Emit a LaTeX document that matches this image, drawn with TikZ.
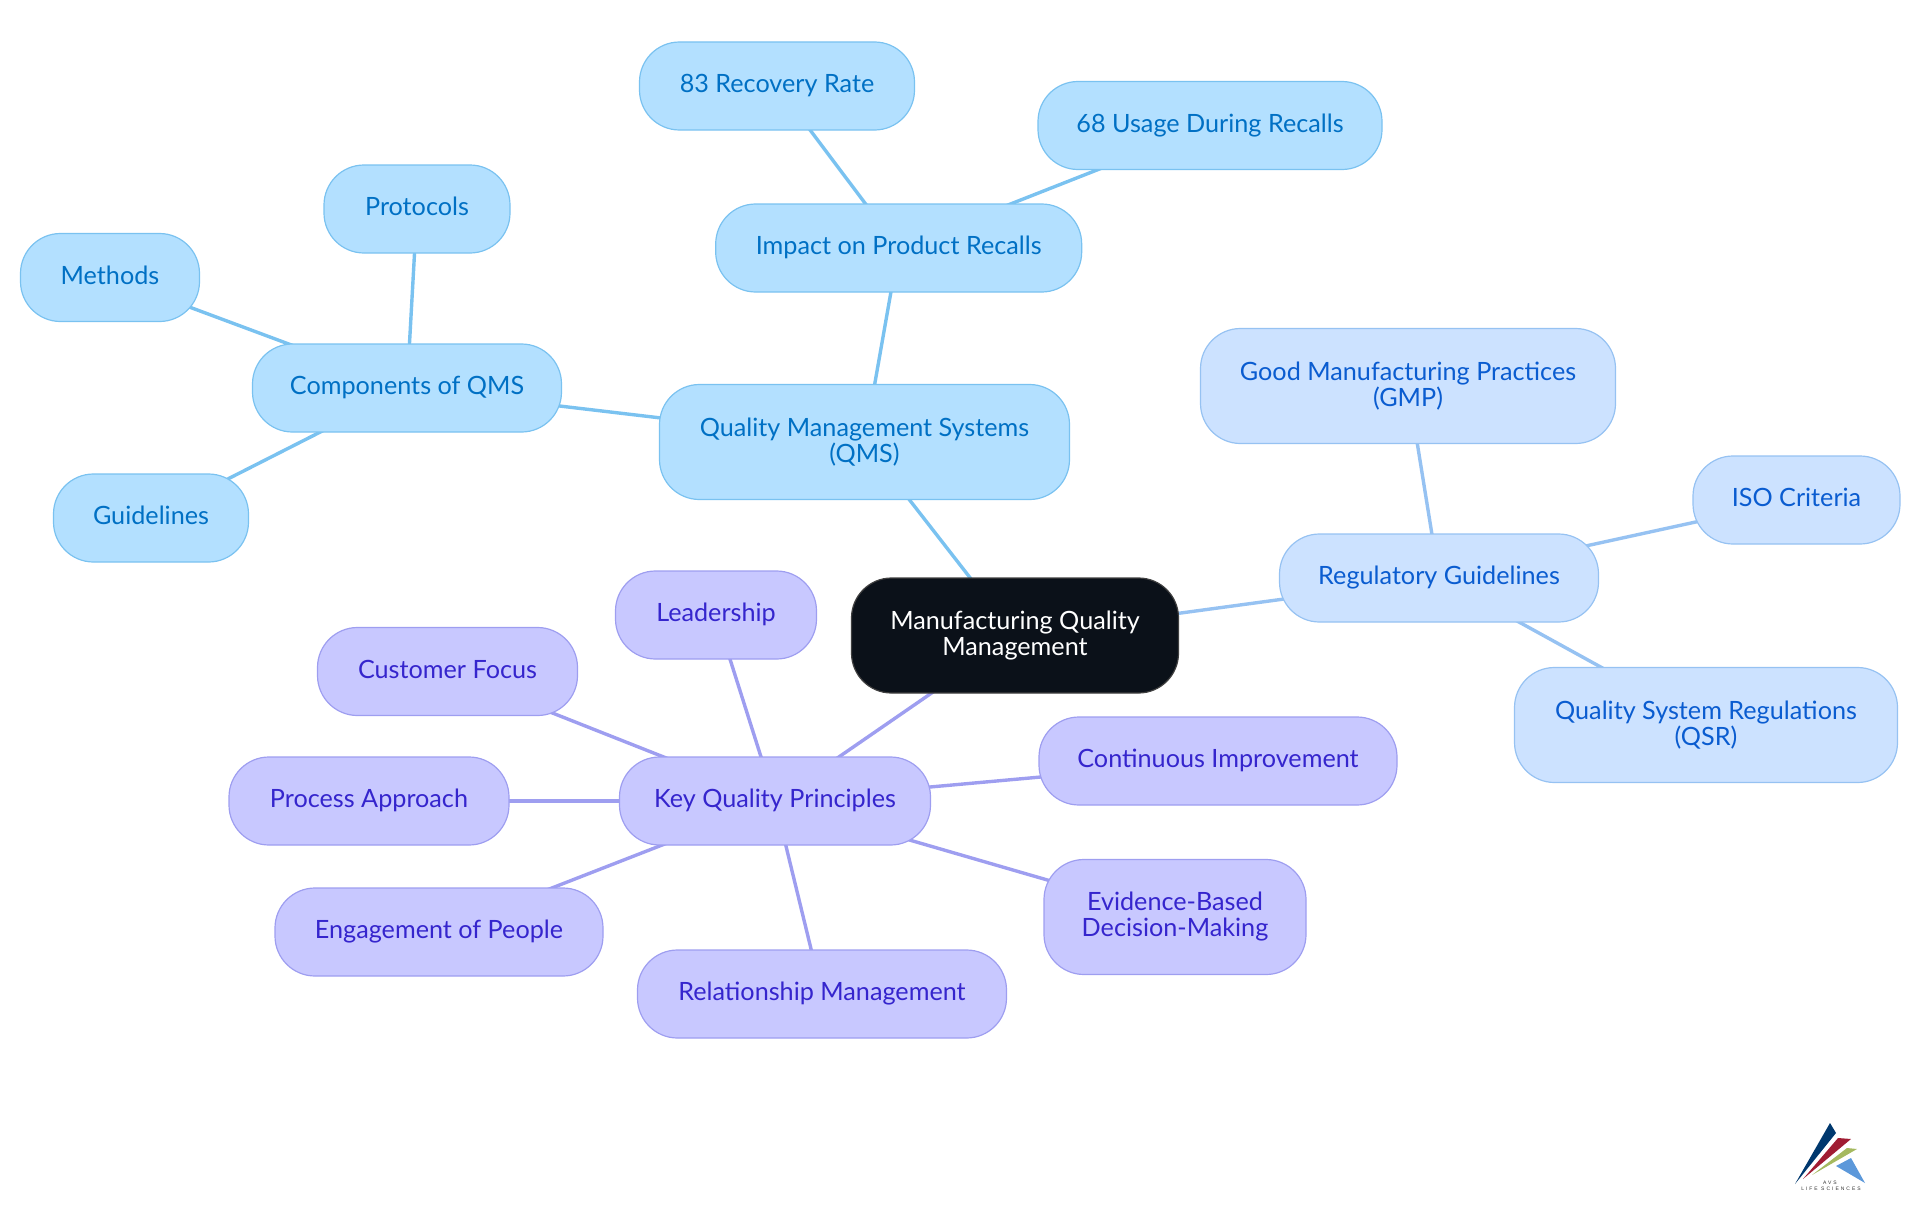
\documentclass[tikz,border=0pt]{standalone}
\usepackage{fontspec}
\setmainfont{Lato}
\newfontfamily\logofont[LetterSpace=40]{Liberation Sans}
\usetikzlibrary{positioning, backgrounds}
\definecolor{qmsfill}{HTML}{B3E0FF}
\definecolor{qmsline}{HTML}{7AC2F0}
\definecolor{qmstext}{HTML}{0070C4}
\definecolor{regfill}{HTML}{CCE2FF}
\definecolor{regline}{HTML}{96C2F2}
\definecolor{regtext}{HTML}{0A5CD0}
\definecolor{keyfill}{HTML}{C8C8FF}
\definecolor{keyline}{HTML}{9E9EF0}
\definecolor{keytext}{HTML}{3525CD}
\definecolor{rootfill}{HTML}{0B1119}
\tikzset{
	topic/.style={rectangle, rounded corners=40pt, line width=1.2pt, inner sep=0pt, minimum height=88pt, text height=18pt, text depth=5pt, align=center, font=\fontsize{25.2}{26}\selectfont},
	tall/.style={minimum height=115pt, text height=, text depth=},
	qms/.style={topic, draw=qmsline, fill=qmsfill, text=qmstext},
	reg/.style={topic, draw=regline, fill=regfill, text=regtext},
	key/.style={topic, draw=keyline, fill=keyfill, text=keytext},
}

\begin{document}
\begin{tikzpicture}[x=1pt, y=-1pt]
	\tikzstyle{qmslink}=[draw=qmsline, line width=3.4pt]
	\tikzstyle{reglink}=[draw=regline, line width=3.4pt]
	\tikzstyle{keylink}=[draw=keyline, line width=3.4pt]
	\useasboundingbox (0,0) rectangle (1920,1215);

	\node[topic, tall, draw=black!75, fill=rootfill, text=white, minimum width=327pt] (root) at (1015,635.5) {Manufacturing Quality\\Management};

	% upper branch
	\node[qms, tall, minimum width=410pt] (systems) at (864.5,442) {Quality Management Systems\\(QMS)};
	\node[qms, minimum width=366pt] (recalls) at (898.7,248) {Impact on Product Recalls};
	\node[qms, minimum width=275pt] (recovery) at (777,86) {83 Recovery Rate};
	\node[qms, minimum width=344pt] (usage) at (1210,125.5) {68 Usage During Recalls};
	\node[qms, minimum width=309pt] (components) at (407,388) {Components of QMS};
	\node[qms, minimum width=186pt] (protocols) at (417,209) {Protocols};
	\node[qms, minimum width=179pt] (methods) at (110,277.5) {Methods};
	\node[qms, minimum width=195pt] (guidelines) at (151,518) {Guidelines};

	% right branch
	\node[reg, minimum width=319pt] (regulatory) at (1439,578) {Regulatory Guidelines};
	\node[reg, tall, minimum width=415pt] (gmp) at (1408,386) {Good Manufacturing Practices\\(GMP)};
	\node[reg, minimum width=207pt] (iso) at (1796.5,500) {ISO Criteria};
	\node[reg, tall, minimum width=383pt] (qsr) at (1706,725) {Quality System Regulations\\(QSR)};

	% lower branch
	\node[key, minimum width=311pt] (principles) at (775,801) {Key Quality Principles};
	\node[key, minimum width=201pt] (leadership) at (716,615) {Leadership};
	\node[key, minimum width=260pt] (customer) at (447.5,671.5) {Customer Focus};
	\node[key, minimum width=280pt] (process) at (369,801) {Process Approach};
	\node[key, minimum width=328pt] (people) at (439,932) {Engagement of People};
	\node[key, minimum width=369pt] (relationship) at (822,994) {Relationship Management};
	\node[key, tall, minimum width=262pt] (evidence) at (1175,917) {Evidence-Based\\Decision-Making};
	\node[key, minimum width=358pt] (improvement) at (1218,761) {Continuous Improvement};

	\begin{scope}[on background layer]
		\path (root.center) edge[qmslink] (systems.center);
		\path (systems.center) edge[qmslink] (recalls.center);
		\path (recalls.center) edge[qmslink] (recovery.center);
		\path (recalls.center) edge[qmslink] (usage.center);
		\path (systems.center) edge[qmslink] (components.center);
		\path (components.center) edge[qmslink] (protocols.center);
		\path (components.center) edge[qmslink] (methods.center);
		\path (components.center) edge[qmslink] (guidelines.center);

		\path (root.center) edge[reglink] (regulatory.center);
		\path (regulatory.center) edge[reglink] (gmp.center);
		\path (regulatory.center) edge[reglink] (iso.center);
		\path (regulatory.center) edge[reglink] (qsr.center);

		\path (root.center) edge[keylink] (principles.center);
		\path (principles.center) edge[keylink] (leadership.center);
		\path (principles.center) edge[keylink] (customer.center);
		\path (principles.center) edge[keylink] (process.center);
		\path (principles.center) edge[keylink] (people.center);
		\path (principles.center) edge[keylink] (relationship.center);
		\path (principles.center) edge[keylink] (evidence.center);
		\path (principles.center) edge[keylink] (improvement.center);
	\end{scope}

	% logo
	\fill[fill={rgb,255:red,0;green,56;blue,110}] (1795,1184) -- (1830,1123) -- (1836,1133) -- cycle;
	\fill[fill={rgb,255:red,160;green,28;blue,50}] (1803,1179) -- (1838,1138) -- (1851,1139) -- cycle;
	\fill[fill={rgb,255:red,165;green,185;blue,95}] (1812,1175) -- (1847,1148) -- (1857,1149) -- cycle;
	\fill[fill={rgb,255:red,92;green,152;blue,218}] (1836,1166) -- (1851,1158) -- (1865,1183) -- cycle;
	\node[inner sep=0pt, text=black!80, font=\logofont\fontsize{5}{5}\selectfont] (avs) at (1830,1183) {AVS};
	\node[inner sep=0pt, text=black!80, font=\logofont\fontsize{5}{5}\selectfont] (life) at (1831,1189) {LIFE SCIENCES};
\end{tikzpicture}
\end{document}
